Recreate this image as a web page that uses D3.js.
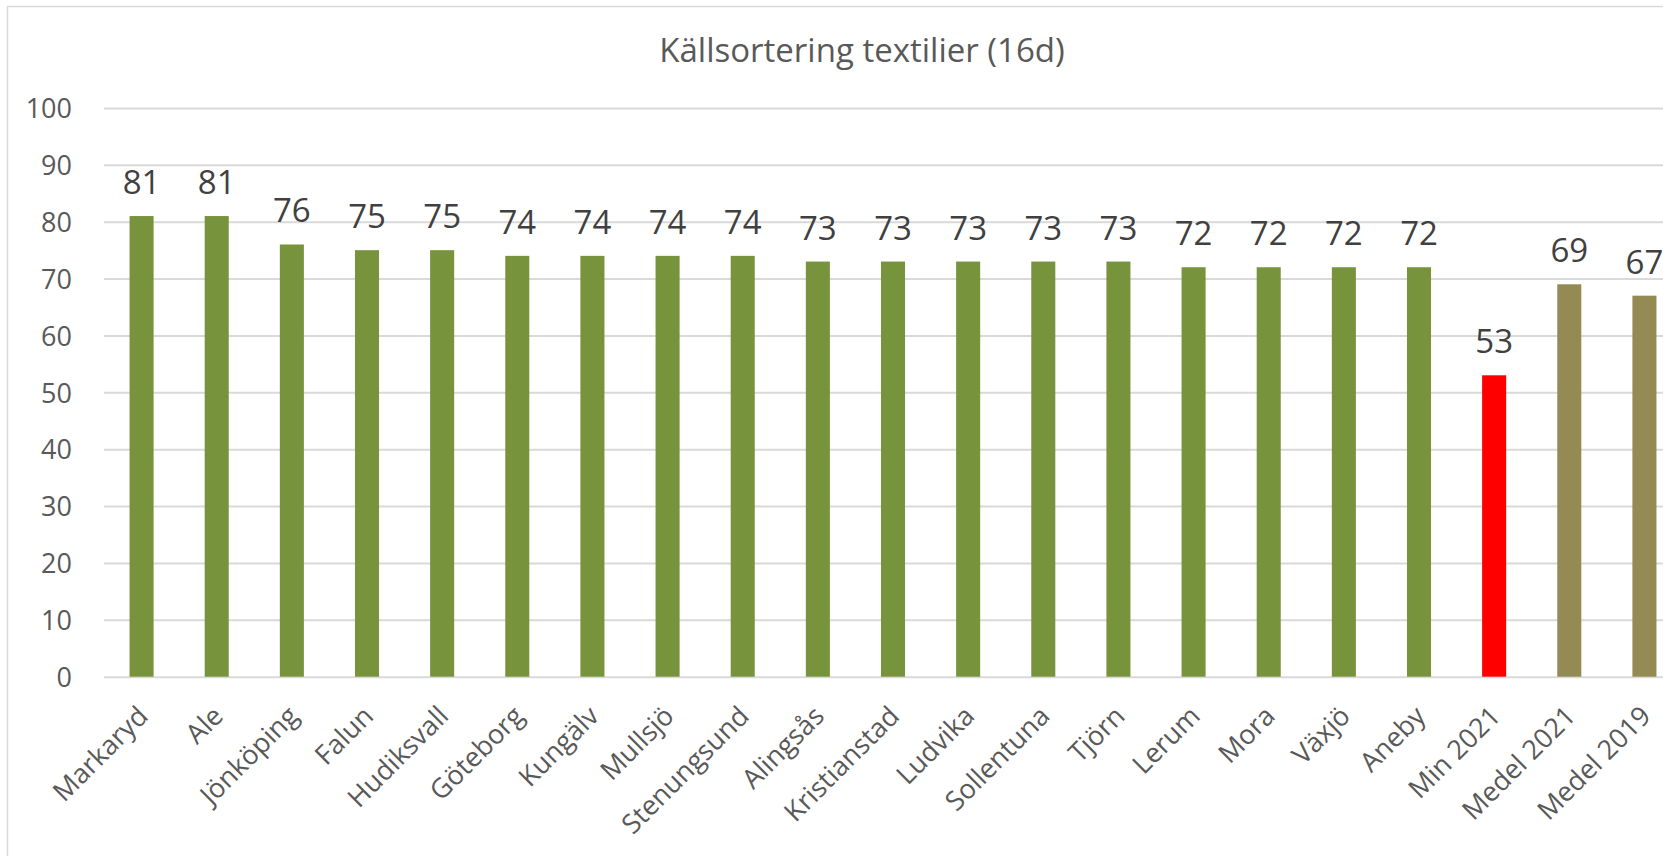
<!DOCTYPE html>
<html>
<head>
<meta charset="utf-8">
<script src="https://cdn.jsdelivr.net/npm/d3@7"></script>
<style>
    body { margin: 0; background: #fff; }
    svg { display: block; font-family: "Open Sans", sans-serif; }
</style>
</head>
<body>
<div id="chart"></div>
<script>
const categories = ["Markaryd", "Ale", "Jönköping", "Falun", "Hudiksvall", "Göteborg", "Kungälv",
    "Mullsjö", "Stenungsund", "Alingsås", "Kristianstad", "Ludvika", "Sollentuna", "Tjörn",
    "Lerum", "Mora", "Växjö", "Aneby", "Min 2021", "Medel 2021", "Medel 2019"];
const values = [81, 81, 76, 75, 75, 74, 74, 74, 74, 73, 73, 73, 73, 73, 72, 72, 72, 72, 53, 69, 67];
const yTicks = [0, 10, 20, 30, 40, 50, 60, 70, 80, 90, 100];
const title = "Källsortering textilier (16d)";

const width = 1663;
const height = 856;
const plotLeft = 104, plotRight = 1682;   // plot runs past the right edge, as in the original
const plotTop = 108, plotBottom = 676.7;

const data = categories.map((c, i) => ({ name: c, value: values[i] }));

const svg = d3.select("#chart")
    .append("svg")
    .attr("width", width)
    .attr("height", height);

// outer chart frame (right and bottom are cut off)
svg.append("rect")
    .attr("x", 7.5).attr("y", 6.5)
    .attr("width", 2000).attr("height", 1000)
    .attr("fill", "none")
    .attr("stroke", "#d9d9d9")
    .attr("stroke-width", 1.5);

svg.append("text")
    .attr("x", 862)
    .attr("y", 62)
    .attr("text-anchor", "middle")
    .style("font-size", "33px")
    .style("fill", "#595959")
    .text(title);

const x = d3.scaleBand()
    .domain(categories)
    .range([plotLeft, plotRight])
    .paddingInner(0.68)
    .paddingOuter(0.34);

const y = d3.scaleLinear()
    .domain([0, 100])
    .range([plotBottom, plotTop]);

// bar colour by kind of row
const kind = d => d.startsWith("Min") ? "min" : d.startsWith("Medel") ? "medel" : "kommun";
const color = d3.scaleOrdinal()
    .domain(["kommun", "min", "medel"])
    .range(["#77933c", "#ff0000", "#948a54"]);

// y axis + gridlines
const yAxis = svg.append("g")
    .attr("transform", `translate(${plotLeft},0)`)
    .call(d3.axisLeft(y).tickValues(yTicks).tickSize(-(plotRight - plotLeft)).tickPadding(32));
yAxis.select(".domain").remove();
yAxis.selectAll(".tick line").attr("stroke", "#d9d9d9").attr("stroke-width", 2);
yAxis.selectAll(".tick text")
    .attr("dy", "0.36em")
    .style("font-size", "27px")
    .style("font-family", "Open Sans, sans-serif")
    .style("fill", "#595959");

// bars
svg.selectAll("rect.bar")
    .data(data)
    .join("rect")
    .attr("class", "bar")
    .attr("x", d => x(d.name))
    .attr("y", d => y(d.value))
    .attr("width", x.bandwidth())
    .attr("height", d => y(0) - y(d.value))
    .attr("fill", d => color(kind(d.name)));

// value labels
svg.selectAll("text.val")
    .data(data)
    .join("text")
    .attr("class", "val")
    .attr("x", d => x(d.name) + x.bandwidth() / 2)
    .attr("y", d => y(d.value) - 22)
    .attr("text-anchor", "middle")
    .style("font-size", "33px")
    .style("fill", "#404040")
    .text(d => d.value);

// x axis labels, rotated
const xAxis = svg.append("g")
    .attr("transform", `translate(0,${plotBottom})`)
    .call(d3.axisBottom(x).tickSize(0));
xAxis.select(".domain").remove();
xAxis.selectAll(".tick text")
    .attr("text-anchor", "end")
    .attr("dy", 0)
    .attr("y", 0)
    .attr("transform", "translate(8,41) rotate(-45)")
    .style("font-size", "27px")
    .style("font-family", "Open Sans, sans-serif")
    .style("fill", "#595959");
</script>
</body>
</html>
